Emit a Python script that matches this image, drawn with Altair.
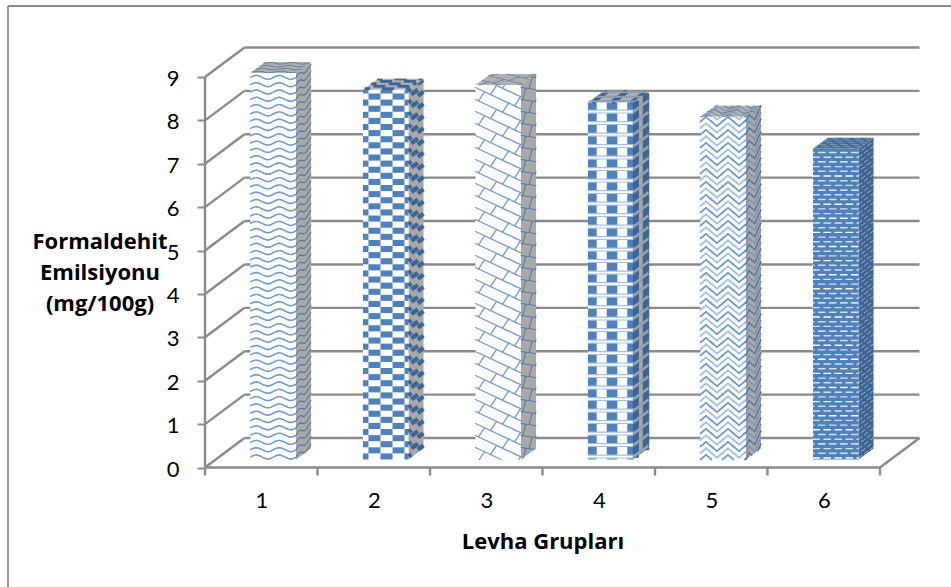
import altair as alt
import pandas as pd

alt.data_transformers.disable_max_rows()

# Chart values
groups = [1, 2, 3, 4, 5, 6]
values = [8.91, 8.52, 8.63, 8.23, 7.9, 7.16]
y_ticks = list(range(10))
y_title = ["Formaldehit", "Emilsiyonu", "(mg/100g)"]
x_title = "Levha Grupları"

# Page layout, in pixels
PAD_L, PAD_T = 8, 6
W, H = 943, 581
FLOOR_Y, UNIT_Y = 467.5, 43.39     # y of value 0 on the front edge, px per unit
FIRST_X, UNIT_X = 261.25, 112.5    # x of group 1 on the front edge, px per group
BACK_DX, BACK_DY = 39.5, 29.5      # oblique offset from front to back wall

BAR_W = 45.5
BAR_SHIFT_X, BAR_LIFT = 12.0, 8.0  # bar front face relative to the floor's front edge
DEPTH_X, DEPTH_Y = 15.0, 11.0      # oblique depth of a bar
TILE_D = 28.0                      # texture length spanning that depth

AXIS = "#8A8A8A"
BLUE, MID, LIGHT, PALE, WHITE = "#4F81BD", "#6E9BD1", "#A3BFE1", "#D3DFEE", "#FFFFFF"
SHADED = {BLUE: "#3A6595", MID: "#4A72A3", LIGHT: "#7592B6", PALE: "#A9B4C2", WHITE: "#A8A8A8"}
GREY_SIDE = "#A8A8A8"
GREY_TOP = "#B0B0B0"

x_scale = alt.Scale(domain=[1 + (PAD_L - FIRST_X) / UNIT_X, 1 + (PAD_L + W - FIRST_X) / UNIT_X], nice=False, zero=False)
y_scale = alt.Scale(domain=[(FLOOR_Y - PAD_T - H) / UNIT_Y, (FLOOR_Y - PAD_T) / UNIT_Y], nice=False, zero=False)

x_axis = alt.Axis(
    values=groups, format="d", offset=-(PAD_T + H - FLOOR_Y), domain=False, grid=False, ticks=False,
    labelFont="Lato", labelFontSize=22, labelColor="#000000", labelPadding=23,
    titleFont="Open Sans", titleFontSize=22, titleFontWeight="bold", titleColor="#000000",
    titleX=542.5 - PAD_L, titleY=80.5, titleAnchor="middle", titleBaseline="alphabetic",
)
y_axis = alt.Axis(
    values=y_ticks, format="d", offset=-(205 - PAD_L), domain=False, grid=False,
    tickSize=8, tickWidth=2, tickColor=AXIS,
    labelFont="Lato", labelFontSize=22, labelColor="#000000", labelPadding=18, labelOffset=1.5,
    titleFont="Open Sans", titleFontSize=22, titleFontWeight="bold", titleColor="#000000",
    titleAngle=0, titleAlign="center", titleBaseline="alphabetic",
    titleX=99.5 - 205, titleY=248 - PAD_T, titleLineHeight=31,
)


def qx():
    return alt.X("x:Q", scale=x_scale, axis=x_axis, title=x_title)


def qy():
    return alt.Y("y:Q", scale=y_scale, axis=y_axis, title=y_title)


def clip(p, q, w, h):
    """Liang-Barsky clip of a segment to the rectangle [0,w] x [0,h]."""
    t0, t1 = 0.0, 1.0
    dx, dy = q[0] - p[0], q[1] - p[1]
    for a, b in ((-dx, p[0]), (dx, w - p[0]), (-dy, p[1]), (dy, h - p[1])):
        if a == 0:
            if b < 0:
                return None
            continue
        t = b / a
        if a < 0:
            t0 = max(t0, t)
        else:
            t1 = min(t1, t)
        if t0 >= t1:
            return None
    return (p[0] + t0 * dx, p[1] + t0 * dy), (p[0] + t1 * dx, p[1] + t1 * dy)


class Tex:
    """Collects the strokes of one fill texture on a w x h face."""

    def __init__(self, w, h):
        self.w, self.h = w, h
        self.lines, self.solids = [], []

    def poly(self, pts, color, width):
        for p, q in zip(pts, pts[1:]):
            c = clip(p, q, self.w, self.h)
            if c:
                self.lines.append((c[0], c[1], color, width))

    def hband(self, u0, u1, v0, v1, color):
        u0, u1, v0, v1 = max(u0, 0), min(u1, self.w), max(v0, 0), min(v1, self.h)
        if u1 > u0 and v1 > v0:
            m = (v0 + v1) / 2
            self.solids.append(((u0, m), (u1, m), color, v1 - v0))

    def vband(self, u0, u1, color):
        u0, u1 = max(u0, 0), min(u1, self.w)
        if u1 > u0:
            m = (u0 + u1) / 2
            self.solids.append(((m, 0), (m, self.h), color, u1 - u0))


WAVE_STEPS = [0, 1.0, 1.7, 2.0, 1.7, 1.0, 0, -1.0, -1.7, -2.0, -1.7, -1.0]
ZIG_STEPS = [0, 4.6, 0, -4.6]


def wave(t):
    rows = int(t.h / 7.3) + 2
    for r in range(rows):
        for c in range(-1, int(t.w / 23) + 2):
            pts = [(c * 23 + i * 23 / 12, r * 7.3 + 2.5 + d) for i, d in enumerate(WAVE_STEPS + [0])]
            t.poly(pts, MID, 1.4)


def checks(t):
    rows = int(t.h / 6.1) + 2
    for r in range(rows):
        for c in range(-1, int(t.w / 24) + 2):
            start = -6.5 + 24 * c + (12 if r % 2 else 0)
            t.hband(start, start + 12, r * 6.1, r * 6.1 + 6.1, BLUE)


def lattice(t):
    slope, gap = 0.47, 12.0
    rows = int((t.h + t.w * slope) / gap) + 3
    for k in range(rows):
        c = k * gap
        t.poly([(0, c), (t.w, c - slope * t.w)], MID, 1.3)
        for j in range(-1, int(t.w / 24) + 2):
            u = 24 * j + (12 if k % 2 else 0) + 3
            t.poly([(u, c - slope * u), (u + 6.1, c - slope * u + 9.15)], MID, 1.3)


def plaid(t):
    for j in range(-1, int(t.w / 20.6) + 2):
        t.vband(20.6 * j - 1.9, 20.6 * j + 8.7, BLUE)
    for r in range(int(t.h / 11.5) + 2):
        base = r * 11.5 + 1.5
        t.hband(0, t.w, base - 0.3, base + 3.1, WHITE)
        t.poly([(0, base), (t.w, base)], LIGHT, 1.2)
        t.poly([(0, base + 2.8), (t.w, base + 2.8)], LIGHT, 1.2)


def zigzag(t):
    for r in range(int(t.h / 6.5) + 3):
        for c in range(-1, int(t.w / 22) + 2):
            pts = [(c * 22 + i * 5.5, (r - 1) * 6.5 + d) for i, d in enumerate(ZIG_STEPS + [0])]
            t.poly(pts, MID if r % 2 else LIGHT, 1.8)


def bricks(t):
    for r in range(int(t.h / 4.7) + 2):
        v = r * 4.7 + 1.5
        color = PALE if r % 3 else WHITE
        for c in range(-1, int(t.w / 11) + 2):
            u = c * 11 + (5.5 if r % 2 else 0)
            t.poly([(u, v), (u + 6.5, v)], color, 1.4)


TEXTURES = [wave, checks, lattice, plaid, zigzag, bricks]
FRONT_FILL = [WHITE, WHITE, WHITE, WHITE, WHITE, BLUE]

face_rows = {"front": [], "side": [], "top": []}
line_rows, solid_rows = [], []


def px_x(px):
    return 1 + (px - FIRST_X) / UNIT_X


def emit(tex, mapper, shade, scale, left, base):
    for rows, strokes_ in ((line_rows, tex.lines), (solid_rows, tex.solids)):
        for p, q, color, width in strokes_:
            a, b = mapper(p), mapper(q)
            rows.append({
                "x": round(px_x(left) + a[0] / UNIT_X, 3),
                "x2": round(px_x(left) + b[0] / UNIT_X, 3),
                "y": round(base + a[1] / UNIT_Y, 3),
                "y2": round(base + b[1] / UNIT_Y, 3),
                "c": SHADED[color] if shade else color,
                "w": round(width * scale, 2),
            })


for i, (g, v) in enumerate(zip(groups, values)):
    left = FIRST_X + UNIT_X * (g - 1) + BAR_SHIFT_X - BAR_W / 2
    right = left + BAR_W
    lift = BAR_LIFT / UNIT_Y
    top = v + lift
    dark = FRONT_FILL[i] == BLUE
    side_fill = SHADED[BLUE] if dark else GREY_SIDE
    top_fill = "#3F6A9C" if dark else GREY_TOP
    dy = DEPTH_Y / UNIT_Y

    face_rows["front"].append({"x": px_x(left), "x2": px_x(right), "y": lift, "y2": top, "c": FRONT_FILL[i]})
    face_rows["side"] += [
        {"g": g, "x": px_x(right), "y": lift, "y2": top, "c": side_fill},
        {"g": g, "x": px_x(right + DEPTH_X), "y": lift + dy, "y2": top + dy, "c": side_fill},
    ]
    face_rows["top"] += [
        {"g": g, "x": px_x(left), "x2": px_x(right), "y": top, "c": top_fill},
        {"g": g, "x": px_x(left + DEPTH_X), "x2": px_x(right + DEPTH_X), "y": top + dy, "c": top_fill},
    ]

    height_px = v * UNIT_Y
    front = Tex(BAR_W, height_px)
    TEXTURES[i](front)
    emit(front, lambda p: p, False, 1.0, left, lift)

    side = Tex(TILE_D, height_px)
    TEXTURES[i](side)
    kx, ky = DEPTH_X / TILE_D, DEPTH_Y / TILE_D
    emit(side, lambda p: (p[0] * kx, p[1] + p[0] * ky), True, 0.7, right, lift)

    cap = Tex(BAR_W, TILE_D)
    TEXTURES[i](cap)
    emit(cap, lambda p: (p[0] + p[1] * kx, p[1] * ky), True, 0.45, left, top)

# Walls and floor of the 3-D box
back_x0 = px_x(205 + BACK_DX)
back_x1 = px_x(880 + BACK_DX)
front_x0, front_x1 = px_x(205), px_x(880)
lift_back = BACK_DY / UNIT_Y
wall_rows = []
for k in y_ticks:
    wall_rows.append({"x": front_x0, "x2": back_x0, "y": k, "y2": k + lift_back})
    wall_rows.append({"x": back_x0, "x2": back_x1, "y": k + lift_back, "y2": k + lift_back})
wall_rows.append({"x": front_x0, "x2": front_x1, "y": 0, "y2": 0})
wall_rows.append({"x": front_x1, "x2": back_x1, "y": 0, "y2": lift_back})
wall_rows.append({"x": front_x0, "x2": front_x0, "y": 0, "y2": 9})
tick_pos = [g - 0.5 for g in groups] + [groups[-1] + 0.5]
for t in tick_pos:
    wall_rows.append({"x": t, "x2": t, "y": 0, "y2": -8 / UNIT_Y})

walls = alt.Chart(pd.DataFrame(wall_rows)).mark_rule(color=AXIS, strokeWidth=2.4).encode(
    x=qx(), x2="x2:Q", y=qy(), y2="y2:Q",
)

# The chart frame shows only its top and left edges
frame_top = alt.Chart(pd.DataFrame({"a": [0]})).mark_rule(color=AXIS, strokeWidth=1.8).encode(
    x=alt.value(0), x2=alt.value(W), y=alt.value(0)
)
frame_left = alt.Chart(pd.DataFrame({"a": [0]})).mark_rule(color=AXIS, strokeWidth=1.8).encode(
    x=alt.value(0), y=alt.value(0), y2=alt.value(H)
)

col = alt.Color("c:N", scale=None)

front_faces = alt.Chart(pd.DataFrame(face_rows["front"])).mark_rect().encode(
    x=qx(), x2="x2:Q", y=qy(), y2="y2:Q", color=col
)
side_faces = alt.Chart(pd.DataFrame(face_rows["side"])).mark_area().encode(
    x=qx(), y=qy(), y2="y2:Q", color=col, detail="g:N"
)
top_faces = alt.Chart(pd.DataFrame(face_rows["top"])).mark_area(orient="horizontal").encode(
    x=qx(), x2="x2:Q", y=qy(), color=col, detail="g:N"
)


def strokes(rows, cap):
    return alt.Chart(pd.DataFrame(rows)).mark_rule(strokeCap=cap).encode(
        x=qx(), x2="x2:Q", y=qy(), y2="y2:Q",
        color=col, strokeWidth=alt.StrokeWidth("w:Q", scale=None),
    )


chart = alt.layer(
    frame_top, frame_left, walls, side_faces, top_faces, front_faces,
    strokes(solid_rows, "butt"), strokes(line_rows, "round"),
).properties(
    width=W, height=H, autosize="none",
    padding={"left": PAD_L, "top": PAD_T, "right": 0, "bottom": 0},
    background="#FFFFFF",
).configure_view(stroke=None)

chart.save("out.html", embed_options={"renderer": "svg", "actions": False})
